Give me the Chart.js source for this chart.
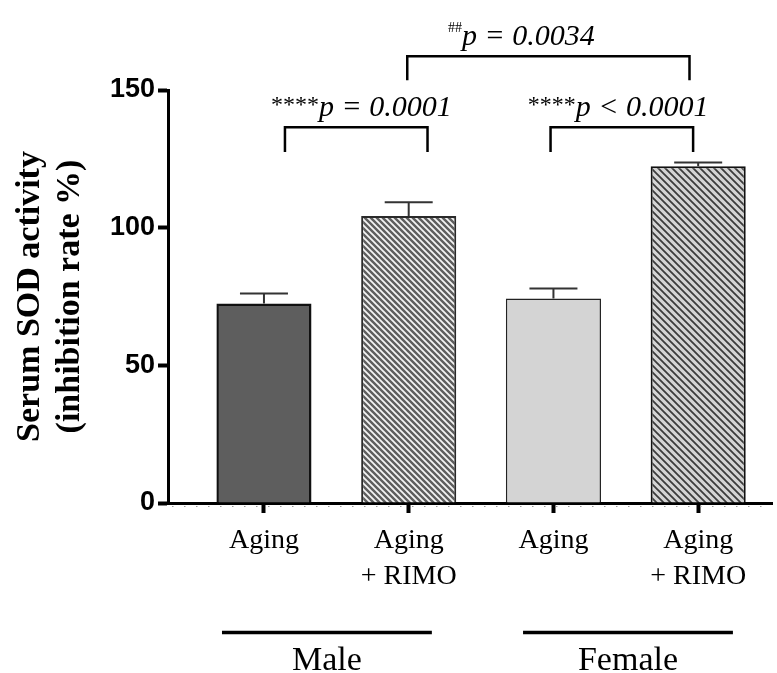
<!DOCTYPE html>
<html>
<head>
<meta charset="utf-8">
<script src="https://cdn.jsdelivr.net/npm/chart.js@4.4.1/dist/chart.umd.min.js"></script>
<style>
html,body{margin:0;padding:0;background:#fff;}
#wrap{width:777px;height:673px;}
</style>
</head>
<body>
<div id="wrap"><canvas id="sodChart"></canvas></div>
<script>
// data
const categories=[['Aging'],['Aging','+ RIMO'],['Aging'],['Aging','+ RIMO']];
const sodMeans=[72.5,104.2,74.3,122.3];
const sodErrors=[3.6,5.0,3.6,1.4];
const groups=['Male','Female'];
const comparisons=[
    {mark:'****',text:'p = 0.0001'},
    {mark:'****',text:'p < 0.0001'},
    {mark:'##',text:'p = 0.0034'}
];

const ctx=document.getElementById('sodChart').getContext('2d');

// diagonal hatch fills
const makeHatch=(bg,fg,size,lw)=>{
    const c=document.createElement('canvas');
    c.width=size;c.height=size;
    const g=c.getContext('2d');
    g.fillStyle=bg;g.fillRect(0,0,size,size);
    g.strokeStyle=fg;g.lineWidth=lw;
    g.beginPath();
    for(let k=-1;k<=1;k++){
        g.moveTo(-1,k*size-1);
        g.lineTo(size+1,size+k*size+1);
    }
    g.stroke();
    return ctx.createPattern(c,'repeat');
};
const hatchDark=makeHatch('#5e5e5e','#f4f4f4',6,1.8);
const hatchLight=makeHatch('#d4d4d4','#3c3c3c',7,1.8);

// brackets, p-values, error bars, group lines
const sodExtras={
    id:'sodExtras',
    afterDatasetsDraw(chart){
        const {ctx,scales:{x,y}}=chart;
        ctx.save();
        // error bars (upper)
        ctx.strokeStyle='#333';
        ctx.lineWidth=2;
        sodMeans.forEach((m,i)=>{
            const px=x.getPixelForValue(i+1);
            const top=y.getPixelForValue(m);
            const hi=y.getPixelForValue(m+sodErrors[i]);
            ctx.beginPath();
            ctx.moveTo(px,top);ctx.lineTo(px,hi);
            ctx.moveTo(px-24,hi);ctx.lineTo(px+24,hi);
            ctx.stroke();
        });

        // dotted line under the x axis
        ctx.save();
        ctx.strokeStyle='#9a9a9a';
        ctx.lineWidth=1;
        ctx.setLineDash([1.5,10.5]);
        ctx.beginPath();
        ctx.moveTo(chart.chartArea.left+4,chart.chartArea.bottom+3.5);
        ctx.lineTo(chart.chartArea.right,chart.chartArea.bottom+3.5);
        ctx.stroke();
        ctx.restore();

        // significance brackets
        const brackets=[
            {x0:1.145,x1:2.13,yb:136.5,yl:127.5,tx:1.048,ty:140.4},
            {x0:2.98,x1:3.965,yb:136.5,yl:127.5,tx:2.822,ty:140.4},
            {x0:1.99,x1:3.94,yb:162.3,yl:153.5,tx:2.272,ty:166.2}
        ];
        ctx.strokeStyle='#000';
        ctx.lineWidth=2.5;
        brackets.forEach((b,i)=>{
            const l=x.getPixelForValue(b.x0),r=x.getPixelForValue(b.x1);
            const yb=y.getPixelForValue(b.yb),yl=y.getPixelForValue(b.yl);
            ctx.beginPath();
            ctx.moveTo(l,yl);ctx.lineTo(l,yb);ctx.lineTo(r,yb);ctx.lineTo(r,yl);
            ctx.stroke();

            const c=comparisons[i];
            let tx=x.getPixelForValue(b.tx);
            const base=y.getPixelForValue(b.ty);
            ctx.fillStyle='#000';
            ctx.textBaseline='alphabetic';
            ctx.textAlign='left';
            if(c.mark==='##'){
                ctx.font='14px "Liberation Serif"';
                ctx.fillText(c.mark,tx,base-13);
            }else{
                ctx.font='24px "Liberation Serif"';
                ctx.fillText(c.mark,tx,base-4);
            }
            tx+=ctx.measureText(c.mark).width;
            ctx.font='italic 30px "Liberation Serif"';
            ctx.fillText(c.text,tx,base);
        });

        // group underlines and names
        const groupSpans=[[0.71,2.16],[2.79,4.24]];
        ctx.lineWidth=3.5;
        ctx.font='34px "Liberation Serif"';
        ctx.textAlign='center';
        groupSpans.forEach((s,i)=>{
            const l=x.getPixelForValue(s[0]),r=x.getPixelForValue(s[1]);
            const ly=y.getPixelForValue(-47);
            ctx.beginPath();
            ctx.moveTo(l,ly);ctx.lineTo(r,ly);
            ctx.stroke();
            ctx.fillText(groups[i],(l+r)/2,y.getPixelForValue(-60.5));
        });
        ctx.restore();
    }
};

let sodChart=new Chart(ctx,{
    type:'bar',
    data:{
        datasets:[{
            data:sodMeans.map((v,i)=>({x:i+1,y:v})),
            backgroundColor:['#5e5e5e',hatchDark,'#d4d4d4',hatchLight],
            borderColor:['#111','#2a2a2a','#222','#111'],
            borderWidth:[2.5,2,1.5,2],
            barPercentage:0.657,
            categoryPercentage:1
        }]
    },
    options:{
        responsive:true,
        maintainAspectRatio:false,
        animation:false,
        layout:{padding:{top:90,right:5,left:0,bottom:0}},
        plugins:{legend:{display:false},tooltip:{enabled:false}},
        scales:{
            x:{
                type:'linear',
                min:0.337,
                max:4.51,
                offset:false,
                afterBuildTicks:s=>{s.ticks=categories.map((c,i)=>({value:i+1}));},
                afterFit:s=>{s.height=170;},
                ticks:{
                    callback:(v,i)=>categories[i],
                    autoSkip:false,
                    maxRotation:0,
                    padding:9,
                    color:'#000',
                    font:{family:'"Liberation Serif"',size:28,lineHeight:1.3}
                },
                grid:{drawOnChartArea:false,offset:false,tickLength:10,tickWidth:4,tickColor:'#000'},
                border:{color:'#000',width:3}
            },
            y:{
                min:0,
                max:150,
                afterFit:s=>{s.width=168;},
                ticks:{
                    stepSize:50,
                    padding:3,
                    color:'#000',
                    font:{family:'"Liberation Sans"',size:27,weight:'bold'}
                },
                grid:{drawOnChartArea:false,tickLength:10,tickWidth:4,tickColor:'#000'},
                border:{color:'#000',width:3},
                title:{
                    display:true,
                    text:['Serum SOD activity','(inhibition rate %)'],
                    color:'#000',
                    padding:{top:10,bottom:0},
                    font:{family:'"Liberation Serif"',size:34,weight:'bold',lineHeight:1.18}
                }
            }
        }
    },
    plugins:[sodExtras]
});
</script>
</body>
</html>
